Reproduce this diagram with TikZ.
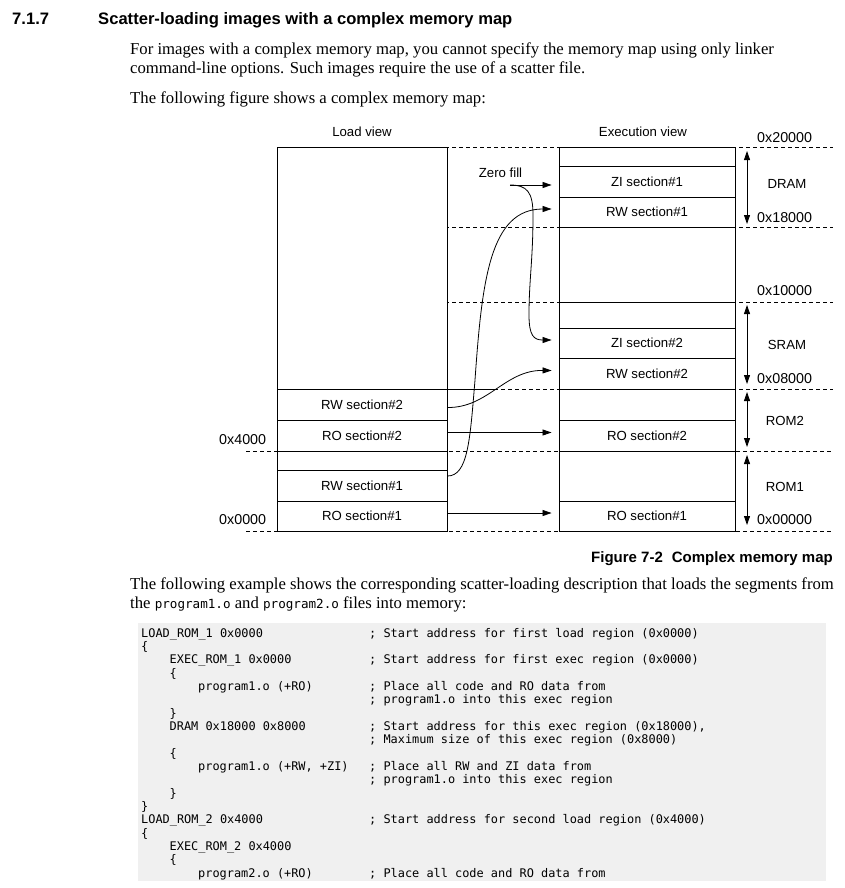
\documentclass[tikz,border=0pt]{standalone}
\usepackage{fontspec}
\setmainfont{Liberation Serif}
\setsansfont{Liberation Sans}
\setmonofont{DejaVu Sans Mono}
\usetikzlibrary{arrows.meta}
\definecolor{codegray}{RGB}{240,240,240}
\newcommand{\filecode}[1]{{\ttfamily\fontsize{12.6}{14}\selectfont #1}}
\tikzset{txt/.style={anchor=base west,inner sep=0pt},
  bodytxt/.style={txt,font=\fontsize{16.7}{19}\selectfont},
  headtxt/.style={txt,font=\sffamily\bfseries\fontsize{16.6}{19}\selectfont},
  codetxt/.style={txt,font=\ttfamily\fontsize{11.9}{13.35}\selectfont},
  lbl/.style={inner sep=0pt,font=\sffamily\fontsize{13.2}{15}\selectfont},
  hexlbl/.style={txt,font=\sffamily\fontsize{14.3}{16}\selectfont},
  viewbox/.style={rectangle,draw,fill=white,line width=0.9pt,
    minimum width=#1,minimum height=384pt},
  secbox/.style={rectangle,draw,fill=white,line width=0.9pt,inner sep=0pt,
    minimum height=31pt,font=\sffamily\fontsize{13.2}{15}\selectfont},
  ldsec/.style={secbox,minimum width=170pt},
  exsec/.style={secbox,minimum width=176pt},
  memline/.style={line width=0.8pt,dash pattern=on 4pt off 3pt},
  flow/.style={line width=0.8pt,-{Triangle[length=9pt,width=6pt]}},
  span/.style={line width=0.8pt,{Triangle[length=9pt,width=6pt]}-{Triangle[length=9pt,width=6pt]}}
}
\begin{document}
\begin{tikzpicture}[x=1pt,y=-1pt]
  \useasboundingbox (0,0) rectangle (844,888);
  % page text
  \node[headtxt] (secnum) at (12,25) {7.1.7};
  \node[headtxt] (sectitle) at (98,25) {Scatter-loading images with a complex memory map};
  \node[bodytxt] (para1) at (130,55) {For images with a complex memory map, you cannot specify the memory map using only linker};
  \node[bodytxt] (para2) at (130,74) {command-line options. Such images require the use of a scatter file.};
  \node[bodytxt] (para3) at (130,103) {The following figure shows a complex memory map:};
  \node[bodytxt] (para4) at (130,589) {The following example shows the corresponding scatter-loading description that loads the segments from};
  \node[bodytxt] (para5) at (130,608.5) {the \filecode{program1.o} and \filecode{program2.o} files into memory:};
  \node[txt,anchor=base east,font=\sffamily\bfseries\fontsize{15}{18}\selectfont] (caption) at (833,562.5) {Figure 7-2\hspace{0.6em}Complex memory map};

  % memory map
  \node[lbl] (loadhd) at (362,132) {Load view};
  \node[lbl] (exechd) at (643,132) {Execution view};
  \foreach \y in {147,227,302,389}
    \draw[memline] (277,\y) -- (833,\y);
  \foreach \y in {451,531}
    \draw[memline] (246,\y) -- (833,\y);
  \node[viewbox=170pt] (loadview) at (362,339) {};
  \node[viewbox=176pt] (execview) at (647,339) {};
  \draw[line width=0.9pt] (447,389) -- (497,389);
  \draw[line width=0.9pt] (559,302) -- (735,302);

  \node[ldsec] (ldRWtwo) at (362,404.5) {RW section\#2};
  \node[ldsec] (ldROtwo) at (362,435.5) {RO section\#2};
  \node[ldsec] (ldRWone) at (362,485.5) {RW section\#1};
  \node[ldsec,minimum height=30pt] (ldROone) at (362,516) {RO section\#1};

  \node[exsec] (exZIone) at (647,181.5) {ZI section\#1};
  \node[exsec,minimum height=30pt] (exRWone) at (647,212) {RW section\#1};
  \node[exsec,minimum height=30pt] (exZItwo) at (647,343) {ZI section\#2};
  \node[exsec] (exRWtwo) at (647,373.5) {RW section\#2};
  \node[exsec] (exROtwo) at (647,435.5) {RO section\#2};
  \node[exsec,minimum height=30pt] (exROone) at (647,516) {RO section\#1};

  \node[lbl] (zerolbl) at (500.5,173) {Zero fill};
  \coordinate (zf) at (510,185);
  \draw[flow,shorten >=7pt] (zf) -- (zf -| exZIone.west);
  \draw[flow] (zf) .. controls (527,185) and (533,192) .. (533,215)
    .. controls (533,260) and (529,280) .. (529,315)
    .. controls (529,336) and (534,340) .. ([xshift=-7pt,yshift=3pt]exZItwo.west);
  \draw[flow] ([yshift=9.5pt]ldRWone.east) .. controls (468,476) and (470,440) .. (475,380)
    .. controls (482,280) and (490,209) .. ([xshift=-7pt,yshift=3pt]exRWone.west);
  \draw[flow] ([yshift=-3pt]ldRWtwo.east) .. controls (488,408) and (505,370) .. ([xshift=-7pt,yshift=3pt]exRWtwo.west);
  \draw[flow] ([yshift=3pt]ldROtwo.east) -- ([xshift=-7pt,yshift=3pt]exROtwo.west);
  \draw[flow] ([yshift=3pt]ldROone.east) -- ([xshift=-7pt,yshift=3pt]exROone.west);

  \foreach \ya/\yb in {151/224,305/384,392/447,455/525}
    \draw[span] (747,\ya) -- (747,\yb);
  \node[lbl] (dram) at (787,184) {DRAM};
  \node[lbl] (sram) at (787,345) {SRAM};
  \node[lbl] (romtwo) at (785,421) {ROM2};
  \node[lbl] (romone) at (785,487) {ROM1};
  \node[hexlbl] (hxa) at (757,142.5) {0x20000};
  \node[hexlbl] (hxb) at (757,222) {0x18000};
  \node[hexlbl] (hxc) at (757,295.5) {0x10000};
  \node[hexlbl] (hxd) at (757,383) {0x08000};
  \node[hexlbl] (hxe) at (757,524) {0x00000};
  \node[hexlbl] (hxf) at (219,444) {0x4000};
  \node[hexlbl] (hxg) at (219,524) {0x0000};

  % scatter file listing
  \node[rectangle,fill=codegray,minimum width=688pt,minimum height=258pt,inner sep=0pt] (codebg) at (482,752) {};
  \foreach \i/\x/\t in {0/141/{LOAD\_ROM\_1 0x0000},1/141/\{,2/169.5/{EXEC\_ROM\_1 0x0000},3/169.5/\{,
      4/198/{program1.o (+RO)},6/169.5/\},7/169.5/{DRAM 0x18000 0x8000},9/169.5/\{,
      10/198/{program1.o (+RW, +ZI)},12/169.5/\},13/141/\},14/141/{LOAD\_ROM\_2 0x4000},
      15/141/\{,16/169.5/{EXEC\_ROM\_2 0x4000},17/169.5/\{,18/198/{program2.o (+RO)}}
    \node[codetxt] (code\i) at (\x,{637+13.35*\i}) {\t};
  \foreach \i/\t in {0/{; Start address for first load region (0x0000)},
      2/{; Start address for first exec region (0x0000)},
      4/{; Place all code and RO data from},5/{; program1.o into this exec region},
      7/{; Start address for this exec region (0x18000),},
      8/{; Maximum size of this exec region (0x8000)},
      10/{; Place all RW and ZI data from},11/{; program1.o into this exec region},
      14/{; Start address for second load region (0x4000)},
      18/{; Place all code and RO data from}}
    \node[codetxt] (cmt\i) at (369,{637+13.35*\i}) {\t};
\end{tikzpicture}
\end{document}
